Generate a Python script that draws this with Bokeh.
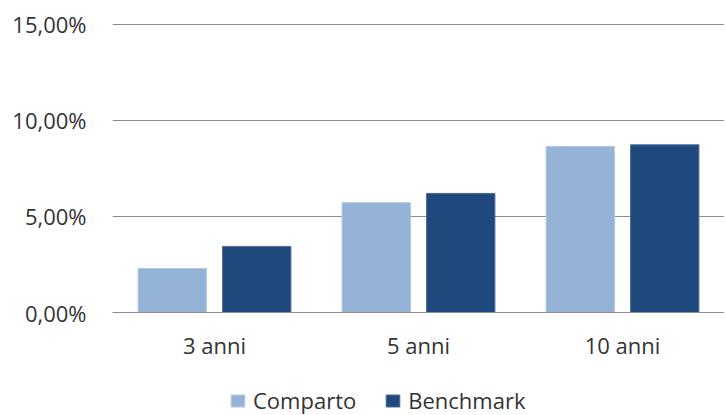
from bokeh.plotting import figure
from bokeh.layouts import column
from bokeh.models import (ColumnDataSource, FactorRange, Range1d, FixedTicker,
                          CustomJSTickFormatter, Legend, LegendItem)
from bokeh.transform import dodge
from bokeh.embed import file_html
from bokeh.resources import INLINE

categories = ["3 anni", "5 anni", "10 anni"]
comparto = [2.29, 5.72, 8.65]
benchmark = [3.44, 6.20, 8.73]
y_ticks = [0, 5, 10, 15]
series_names = ["Comparto", "Benchmark"]
series_cols = ["comparto", "benchmark"]
series_fill = ["#95B3D7", "#1F497D"]
series_line = ["#B3C8E2", "#4A6A94"]

src = ColumnDataSource(dict(cat=categories, comparto=comparto, benchmark=benchmark))

FONT = "Open Sans"
TXT = "#333333"

p = figure(x_range=FactorRange(*categories, range_padding=0), y_range=Range1d(0, 15.1),
           width=724, height=370, output_backend="svg", toolbar_location=None,
           min_border_left=112, min_border_right=0, min_border_top=22, min_border_bottom=58)
p.outline_line_color = None
p.background_fill_color = "white"
p.border_fill_color = "white"

for col, off, fc, lc in zip(series_cols, [-0.207, 0.207], series_fill, series_line):
    p.vbar(x=dodge("cat", off, range=p.x_range), top=col, width=0.335, source=src,
           fill_color=fc, line_color=lc, line_width=1)

p.yaxis.ticker = FixedTicker(ticks=y_ticks)
p.yaxis.formatter = CustomJSTickFormatter(code="return tick.toFixed(2).replace('.', ',') + '%';")
p.yaxis.axis_line_color = None
p.yaxis.major_tick_line_color = None
p.yaxis.minor_tick_line_color = None
p.yaxis.major_tick_out = 0
p.yaxis.major_label_standoff = 26
p.yaxis.major_label_text_font = FONT
p.yaxis.major_label_text_font_size = "22px"
p.yaxis.major_label_text_color = TXT

p.xaxis.axis_line_color = "#8c8c8c"
p.xaxis.axis_line_width = 1
p.xaxis.major_tick_line_color = None
p.xaxis.minor_tick_line_color = None
p.xaxis.major_tick_out = 0
p.xaxis.major_label_standoff = 17
p.xaxis.major_label_text_font = FONT
p.xaxis.major_label_text_font_size = "22px"
p.xaxis.major_label_text_color = TXT

p.xgrid.grid_line_color = None
p.ygrid.ticker = FixedTicker(ticks=y_ticks)
p.ygrid.grid_line_color = "#8c8c8c"
p.ygrid.grid_line_width = 1

# legend strip below the chart (its bars fall outside its view; only the legend shows)
p2 = figure(x_range=FactorRange(*categories, range_padding=0), y_range=Range1d(100, 101),
            width=724, height=45, output_backend="svg", toolbar_location=None,
            min_border_left=0, min_border_right=0, min_border_top=0, min_border_bottom=0)
p2.axis.visible = False
p2.grid.grid_line_color = None
p2.outline_line_color = None
p2.border_fill_color = "white"

items = []
for name, col, off, fc, lc in zip(series_names, series_cols, [-0.207, 0.207], series_fill, series_line):
    r = p2.vbar(x=dodge("cat", off, range=p2.x_range), top=col, width=0.335, source=src,
                fill_color=fc, line_color=lc, line_width=1)
    items.append(LegendItem(label=name, renderers=[r]))

legend = Legend(items=items, orientation="horizontal", location=(117, 0),
                glyph_width=17, glyph_height=15, label_standoff=7, spacing=28,
                padding=0, margin=0, border_line_color=None, background_fill_alpha=0,
                label_text_font=FONT, label_text_font_size="22px", label_text_color=TXT,
                label_height=22)
p2.add_layout(legend, "center")

layout = column(p, p2, spacing=0)
open("out.html", "w").write(file_html(layout, INLINE))
